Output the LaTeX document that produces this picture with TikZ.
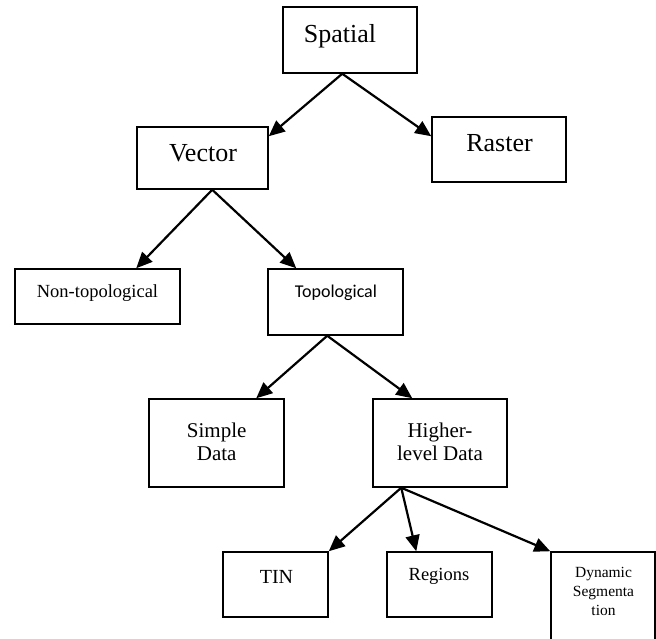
\documentclass[tikz,border=0pt]{standalone}
\usepackage{fontspec}
\setmainfont{Liberation Serif}
\newfontfamily\calibrifont{Carlito}
\usetikzlibrary{arrows.meta}
\tikzset{
  box/.style={draw=black, line width=1.5pt, rectangle, inner sep=0pt},
  conn/.style={draw=black, line width=2.2pt, -{Triangle[length=16pt,width=14pt]}},
  lbl/.style={anchor=base, inner sep=0pt, align=center},
}
\begin{document}
\begin{tikzpicture}[x=1pt,y=-1pt]
\useasboundingbox (0,0) rectangle (656,639);
% boxes
\node[box, minimum width=134pt, minimum height=66pt] (sp) at (350,40) {};
\node[box, minimum width=131pt, minimum height=62pt] (ve) at (202.5,158) {};
\node[box, minimum width=134pt, minimum height=65pt] (ra) at (499,149.5) {};
\node[box, minimum width=165pt, minimum height=55pt] (nt) at (97.5,296.5) {};
\node[box, minimum width=135pt, minimum height=66pt] (to) at (335.5,302) {};
\node[box, minimum width=135pt, minimum height=88pt] (si) at (216.5,443) {};
\node[box, minimum width=134pt, minimum height=88pt] (hl) at (440,443) {};
\node[box, minimum width=105pt, minimum height=65pt] (tin) at (275.5,584.5) {};
\node[box, minimum width=105pt, minimum height=65pt] (re) at (439.5,584.5) {};
\node[box, minimum width=104pt, minimum height=93pt] (dy) at (603,598.5) {};
% texts
\node[lbl, font=\fontsize{26}{28}\selectfont] (spt) at (340,43) {Spatial};
\node[lbl, font=\fontsize{26}{28}\selectfont] (vet) at (203,162) {Vector};
\node[lbl, font=\fontsize{26}{28}\selectfont] (rat) at (499.5,152) {Raster};
\node[lbl, font=\fontsize{18.5}{21}\selectfont] (ntt) at (97.5,297) {Non-topological};
\node[lbl, font=\calibrifont\fontsize{18}{21}\selectfont] (tot) at (336,298) {Topological};
\node[lbl, font=\fontsize{21}{23}\selectfont] (sit) at (216.7,460) {Simple\\Data};
\node[lbl, font=\fontsize{21}{23}\selectfont] (hlt) at (440,460) {Higher-\\level Data};
\node[lbl, font=\fontsize{20}{22}\selectfont] (tint) at (276.5,583) {TIN};
\node[lbl, font=\fontsize{18.5}{21}\selectfont] (ret) at (439,580) {Regions};
\node[lbl, font=\fontsize{15.5}{19}\selectfont] (dyt) at (603.5,615) {Dynamic\\Segmenta\\tion};
% apex coordinates
\coordinate (spA) at ([xshift=60pt]sp.south west);
\coordinate (veA) at ([xshift=76pt]ve.south west);
\coordinate (toA) at ([xshift=60pt]to.south west);
\coordinate (hlA) at ([xshift=29pt]hl.south west);
% connectors
\draw[conn] (spA) -- ([yshift=-10pt]ve.north east);
\draw[conn] (spA) -- ([yshift=-20pt]ra.north west);
\draw[conn] (veA) -- ([xshift=122pt]nt.north west);
\draw[conn] (veA) -- ([xshift=29pt]to.north west);
\draw[conn] (toA) -- ([xshift=108pt]si.north west);
\draw[conn] (toA) -- ([xshift=40pt]hl.north west);
\draw[conn] (hlA) -- (tin.north east);
\draw[conn] (hlA) -- ([xshift=30pt]re.north west);
\draw[conn] (hlA) -- (dy.north west);
\end{tikzpicture}
\end{document}
